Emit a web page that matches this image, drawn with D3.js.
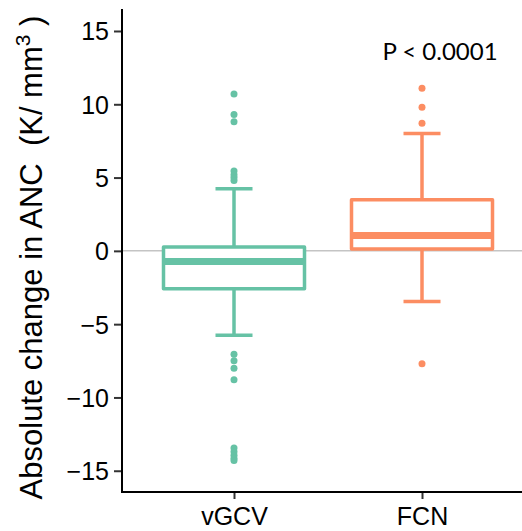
<!DOCTYPE html>
<html>
<head>
<meta charset="utf-8">
<script src="https://cdn.jsdelivr.net/npm/d3@7"></script>
<style>
  html, body { margin: 0; padding: 0; background: #fff; }
  svg { display: block; }
  text { white-space: pre; }
</style>
</head>
<body>
<svg id="chart" width="522" height="531"></svg>
<script>
const categories = ["vGCV", "FCN"];
const colors = ["#66c2a5", "#fc8d62"];
const q1 = [-2.59, 0.12];
const medians = [-0.72, 1.04];
const q3 = [0.27, 3.48];
const whiskerLow = [-5.76, -3.45];
const whiskerHigh = [4.23, 8.0];
const outliersVGCV = [10.7, 9.3, 8.8, 5.45, 5.2, 5.0, 4.8, -7.05, -7.5, -8.0, -8.8, -13.45, -13.7, -13.95, -14.15, -14.3];
const outliersFCN = [11.1, 9.8, 8.7, -7.7];
const yTicks = [-15, -10, -5, 0, 5, 10, 15];
const pLabel = "P < 0.0001";

(function () {
const svg = d3.select("#chart");
const mLeft = 122, mRight = 522, mTop = 9, mBottom = 492;

const y = d3.scaleLinear().domain([-16.45, 16.5]).range([mBottom, mTop]);
const x = d3.scalePoint().domain(categories).range([234, 422]);
const boxW = 141, capW = 37;

svg.append("line")
  .attr("x1", mLeft).attr("x2", mRight)
  .attr("y1", y(0)).attr("y2", y(0))
  .attr("stroke", "#c4c4c4").attr("stroke-width", 1.5);

const groups = categories.map((c, i) => ({
  cat: c, color: colors[i], q1: q1[i], med: medians[i], q3: q3[i],
  lo: whiskerLow[i], hi: whiskerHigh[i],
  out: i === 0 ? outliersVGCV : outliersFCN
}));

const g = svg.selectAll("g.box").data(groups).enter().append("g").attr("class", "box");

g.append("line")
  .attr("x1", d => x(d.cat)).attr("x2", d => x(d.cat))
  .attr("y1", d => y(d.q3)).attr("y2", d => y(d.hi))
  .attr("stroke", d => d.color).attr("stroke-width", 3.5);
g.append("line")
  .attr("x1", d => x(d.cat)).attr("x2", d => x(d.cat))
  .attr("y1", d => y(d.q1)).attr("y2", d => y(d.lo))
  .attr("stroke", d => d.color).attr("stroke-width", 3.5);
g.append("line")
  .attr("x1", d => x(d.cat) - capW / 2).attr("x2", d => x(d.cat) + capW / 2)
  .attr("y1", d => y(d.hi)).attr("y2", d => y(d.hi))
  .attr("stroke", d => d.color).attr("stroke-width", 3.5);
g.append("line")
  .attr("x1", d => x(d.cat) - capW / 2).attr("x2", d => x(d.cat) + capW / 2)
  .attr("y1", d => y(d.lo)).attr("y2", d => y(d.lo))
  .attr("stroke", d => d.color).attr("stroke-width", 3.5);
g.append("rect")
  .attr("x", d => x(d.cat) - boxW / 2).attr("width", boxW)
  .attr("y", d => y(d.q3)).attr("height", d => y(d.q1) - y(d.q3))
  .attr("fill", "#fff").attr("stroke", d => d.color).attr("stroke-width", 3.5)
  .attr("stroke-linejoin", "round");
g.append("line")
  .attr("x1", d => x(d.cat) - boxW / 2).attr("x2", d => x(d.cat) + boxW / 2)
  .attr("y1", d => y(d.med)).attr("y2", d => y(d.med))
  .attr("stroke", d => d.color).attr("stroke-width", 7);
g.each(function (d) {
  d3.select(this).selectAll("circle").data(d.out).enter().append("circle")
    .attr("cx", x(d.cat)).attr("cy", v => y(v)).attr("r", 3.5)
    .attr("fill", d.color);
});

const yAxis = d3.axisLeft(y).tickValues(yTicks).tickSize(8).tickPadding(5)
  .tickFormat(d => d < 0 ? "\u2212" + Math.abs(d) : String(d));
const ya = svg.append("g").attr("transform", `translate(${mLeft},0)`).call(yAxis);
ya.select(".domain").remove();
ya.selectAll(".tick line").attr("stroke", "#333").attr("stroke-width", 2);
ya.selectAll(".tick text").attr("font-family", "Liberation Sans, Arial, sans-serif")
  .attr("font-size", 25).attr("fill", "#000").attr("dy", "0.36em");

const xAxis = d3.axisBottom(x).tickSize(7).tickPadding(8);
const xa = svg.append("g").attr("transform", `translate(0,${mBottom})`).call(xAxis);
xa.select(".domain").remove();
xa.selectAll(".tick line").attr("stroke", "#333").attr("stroke-width", 2);
xa.selectAll(".tick text").attr("font-family", "Liberation Sans, Arial, sans-serif")
  .attr("font-size", 25).attr("fill", "#000");

svg.append("path")
  .attr("d", `M${mLeft},${mTop}V${mBottom}H${mRight}`)
  .attr("fill", "none").attr("stroke", "#000").attr("stroke-width", 2);

const yl = svg.append("text")
  .attr("transform", `translate(42,${(mTop + mBottom) / 2 + 7}) rotate(-90)`)
  .attr("text-anchor", "middle")
  .attr("font-family", "Liberation Sans, Arial, sans-serif")
  .attr("font-size", 31).attr("fill", "#000");
yl.append("tspan").text("Absolute change in ANC  (K/ mm");
yl.append("tspan").attr("font-size", 21).attr("dy", -12).text("3");
yl.append("tspan").attr("dy", 12).text(" )");

svg.append("text")
  .attr("x", 440).attr("y", 60).attr("text-anchor", "middle")
  .attr("font-family", "Lato, Carlito, sans-serif")
  .attr("font-size", 24).attr("fill", "#000")
  .text(pLabel);
})();
</script>
</body>
</html>
